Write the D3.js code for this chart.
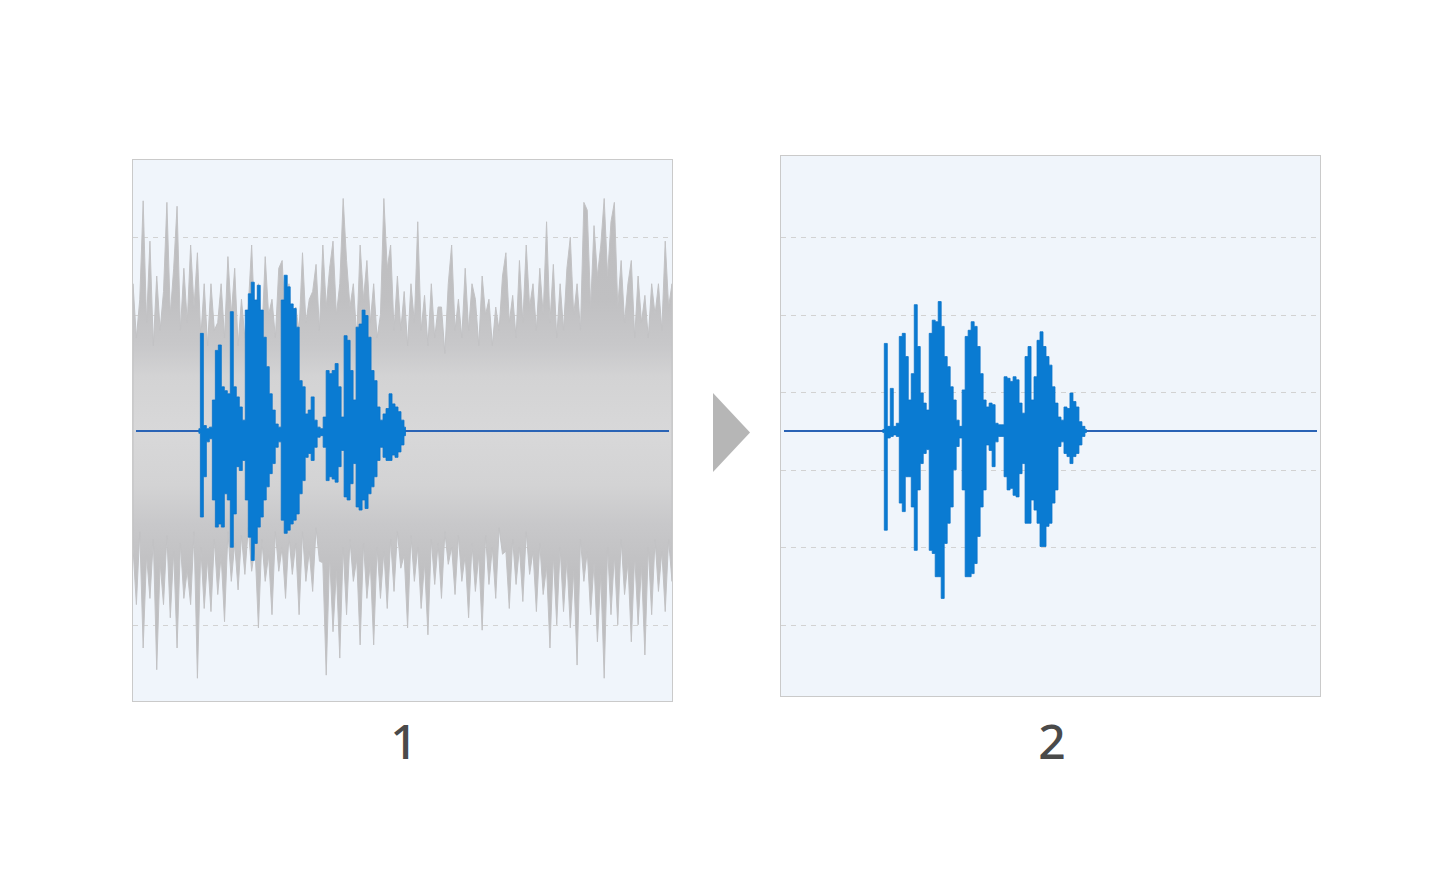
<!DOCTYPE html>
<html><head><meta charset="utf-8">
<script src="https://cdn.jsdelivr.net/npm/d3@7"></script>
<style>html,body{margin:0;padding:0;background:#fff;} svg{display:block}</style>
</head><body>
<svg id="chart" width="1440" height="875"></svg>
<script>
// ---------------- data ----------------
const panelLabels = ["1", "2"];
const gridLevels = [-2.5, -1.5, -0.5, 0.5, 1.5, 2.5];
const durationMs = 1800;          // time span shown in each panel
const lineSpanMs = [10, 1790];    // extent of the zero line
const speechStartMs = [220, 340]; // speech onset in panel 1 / panel 2
const sampleStepMs = 10;          // speech envelope sample interval

// noise envelope (panel 1), upper and lower, evenly spaced over durationMs
const noiseHigh = [1.9,1.2,1.7,2.97,1.4,2.45,1.1,2.0,1.3,1.8,
 2.95,1.5,2.1,2.9,1.3,2.1,1.4,2.4,1.6,2.3,
 1.2,1.9,1.1,1.9,1.3,1.4,1.9,1.2,2.25,1.5,
 2.1,1.1,1.7,1.2,1.6,2.4,1.3,1.9,1.2,2.25,
 1.5,1.7,1.2,2.1,2.2,1.3,1.9,1.1,1.6,1.3,
 2.3,1.4,1.7,1.8,2.15,1.3,2.4,1.6,2.1,2.45,
 1.5,1.9,3.0,2.2,1.6,1.9,1.2,2.4,1.7,2.2,
 1.4,1.9,1.2,1.5,3.0,2.1,2.4,1.3,2.0,1.3,
 1.8,1.1,1.9,1.4,2.7,1.3,1.75,1.1,1.9,1.2,
 1.6,1.6,1.0,1.9,2.4,1.3,1.7,1.2,2.1,1.3,
 1.9,1.7,1.1,2.0,1.5,1.7,1.1,1.6,1.3,2.0,
 2.3,1.4,1.75,1.2,2.2,1.4,2.4,1.6,1.9,1.3,
 2.1,1.5,2.7,1.4,2.15,1.2,1.9,1.3,2.1,2.5,
 1.5,1.9,1.3,2.95,2.85,1.6,2.65,2.0,2.4,3.0,
 2.0,2.7,2.95,1.6,2.2,1.4,1.9,2.2,1.2,2.0,
 1.4,1.75,1.2,1.9,1.5,1.9,1.3,2.45,1.6,1.9];
const noiseLow = [-1.5,-2.24,-1.3,-2.80,-1.6,-2.16,-1.4,-3.08,-1.7,-2.24,-1.35,-2.41,-1.55,-2.80,-1.45,-2.16,-1.8,-2.24,-1.3,-3.19,
 -1.5,-2.29,-1.65,-2.33,-1.4,-2.11,-1.6,-2.46,-1.3,-1.94,-1.45,-2.05,-1.35,-1.85,-1.25,-1.81,-1.5,-2.54,-1.4,-1.94,
 -1.6,-2.37,-1.3,-1.81,-1.5,-2.16,-1.35,-1.85,-1.45,-2.37,-1.3,-1.94,-1.55,-2.07,-1.25,-1.68,-1.7,-3.15,-1.6,-2.59,
 -1.8,-2.93,-1.5,-2.37,-1.4,-1.94,-1.65,-2.76,-1.45,-2.16,-1.7,-2.76,-1.5,-2.16,-1.55,-2.29,-1.4,-2.07,-1.3,-1.77,
 -1.6,-2.54,-1.35,-1.94,-1.5,-2.29,-1.7,-2.63,-1.4,-1.98,-1.45,-2.16,-1.3,-1.72,-1.5,-2.11,-1.35,-1.94,-1.6,-2.41,
 -1.45,-2.07,-1.6,-2.57,-1.35,-1.98,-1.5,-2.16,-1.25,-1.59,-1.55,-2.29,-1.4,-1.98,-1.5,-2.2,-1.3,-1.85,-1.55,-2.33,
 -1.45,-2.11,-1.75,-2.80,-1.6,-2.5,-1.5,-2.33,-1.65,-2.54,-1.8,-3.02,-1.4,-1.94,-1.55,-2.37,-1.7,-2.72,-1.85,-3.19,
 -1.5,-2.37,-1.6,-2.5,-1.4,-2.11,-1.7,-2.72,-1.6,-2.5,-1.75,-2.89,-1.5,-2.37,-1.4,-2.07,-1.55,-2.33,-1.4,-1.94];

// speech envelope, panel 1 (mixed with noise)
const speech1High = [0.03,1.26,0.07,0.03,0.05,0.40,1.04,1.11,0.57,0.52,
 0.48,1.54,0.57,0.44,0.31,0.14,1.56,1.77,1.92,1.69,
 1.88,1.56,1.21,0.83,0.48,0.27,0.09,0.05,1.69,2.01,
 1.86,1.64,1.58,1.34,0.65,0.57,0.22,0.27,0.44,0.14,
 0.05,0.03,0.18,0.78,0.74,0.78,0.87,0.57,0.18,1.23,
 1.17,0.78,0.40,1.34,1.38,1.56,1.49,1.21,0.78,0.65,
 0.31,0.14,0.22,0.29,0.48,0.35,0.31,0.25,0.14,0.05];
const speech1Low = [-0.03,-1.11,-0.59,-0.14,-0.10,-0.89,-1.24,-1.20,-1.24,-0.81,
 -0.89,-1.50,-1.07,-0.46,-0.51,-0.38,-0.89,-1.37,-1.67,-1.45,
 -1.24,-1.11,-0.89,-0.72,-0.55,-0.42,-0.21,-0.14,-1.15,-1.32,
 -1.28,-1.20,-1.15,-1.07,-0.81,-0.64,-0.34,-0.29,-0.38,-0.21,
 -0.08,-0.06,-0.21,-0.64,-0.59,-0.62,-0.66,-0.46,-0.25,-0.85,
 -0.89,-0.68,-0.42,-0.98,-1.02,-0.89,-1.00,-0.81,-0.72,-0.59,
 -0.38,-0.21,-0.34,-0.38,-0.38,-0.31,-0.34,-0.27,-0.18,-0.06];

// speech envelope, panel 2 (noise removed)
const speech2High = [0.02,1.13,0.06,0.55,0.06,0.10,1.22,1.26,0.96,0.40,0.74,
 1.63,1.09,0.49,0.36,0.27,1.26,1.43,1.41,1.67,1.35,
 0.96,0.83,0.57,0.40,0.14,0.06,0.53,1.22,1.30,1.41,
 1.35,1.09,0.74,0.40,0.31,0.36,0.34,0.10,0.08,0.08,
 0.70,0.68,0.64,0.70,0.66,0.36,0.23,0.96,1.09,0.40,
 0.70,1.17,1.28,1.09,0.96,0.85,0.57,0.36,0.18,0.14,
 0.31,0.29,0.49,0.38,0.31,0.12,0.06,0.02];
const speech2Low = [-0.02,-1.28,-0.09,-0.07,-0.05,-0.07,-0.93,-1.04,-0.59,-0.59,-0.98,
 -1.54,-0.76,-0.42,-0.29,-0.24,-1.54,-1.58,-1.88,-1.88,-2.16,
 -1.45,-1.19,-0.98,-0.50,-0.20,-0.09,-0.76,-1.88,-1.88,-1.84,
 -1.71,-1.36,-0.98,-0.76,-0.18,-0.25,-0.46,-0.14,-0.07,-0.07,
 -0.59,-0.76,-0.74,-0.83,-0.85,-0.55,-0.42,-1.19,-1.19,-0.89,
 -1.02,-1.19,-1.49,-1.49,-1.23,-1.19,-0.93,-0.76,-0.20,-0.14,
 -0.29,-0.33,-0.42,-0.33,-0.29,-0.18,-0.07,-0.02];

// ---------------- layout ----------------
const svg = d3.select("#chart");
const panels = [
  {box: {x: 132.5, y: 159.5, w: 540, h: 542}, inner: [133, 672], noise: true,
   high: speech1High, low: speech1Low, start: speechStartMs[0], label: panelLabels[0]},
  {box: {x: 780.5, y: 155.5, w: 540, h: 541}, inner: [781, 1320], noise: false,
   high: speech2High, low: speech2Low, start: speechStartMs[1], label: panelLabels[1]}
];
const y = d3.scaleLinear().domain([-3.5, 3.5]).range([702.25, 159.75]);

const defs = svg.append("defs");
const grad = defs.append("linearGradient").attr("id", "noiseGrad")
  .attr("gradientUnits", "userSpaceOnUse")
  .attr("x1", 0).attr("x2", 0).attr("y1", y(3.3)).attr("y2", y(-3.3));
const stopsA = [[3.3, "#bcbcbe"], [1.7, "#c0c0c2"], [1.1, "#c8c8ca"], [0.7, "#d3d3d4"], [0, "#d8d8d9"],
                [-0.7, "#d3d3d4"], [-1.2, "#c8c8ca"], [-1.8, "#c0c0c2"], [-3.3, "#bcbcbe"]];
stopsA.forEach(([a, c]) => grad.append("stop").attr("offset", (3.3 - a) / 6.6).attr("stop-color", c));

panels.forEach((p, pi) => {
  const x = d3.scaleLinear().domain([0, durationMs]).range(p.inner);
  const g = svg.append("g");
  defs.append("clipPath").attr("id", "clip" + pi).append("rect")
    .attr("x", p.box.x + 0.5).attr("y", p.box.y + 0.5).attr("width", p.box.w - 1).attr("height", p.box.h - 1);

  g.append("rect").attr("x", p.box.x).attr("y", p.box.y).attr("width", p.box.w).attr("height", p.box.h)
    .attr("fill", "#f0f5fb").attr("stroke", "#cacaca").attr("stroke-width", 1);

  const inner = g.append("g").attr("clip-path", `url(#clip${pi})`);

  inner.selectAll("line.grid").data(gridLevels).join("line").attr("class", "grid")
    .attr("x1", p.inner[0]).attr("x2", p.inner[1])
    .attr("y1", d => Math.round(y(d)) + 0.5).attr("y2", d => Math.round(y(d)) + 0.5)
    .attr("stroke", "#d2d2d2").attr("stroke-width", 1).attr("stroke-dasharray", "5,5");

  if (p.noise) {
    const step = durationMs / (noiseHigh.length - 1);
    const area = d3.area().x((d, i) => x(i * step)).y0((d, i) => y(noiseLow[i])).y1(d => y(d));
    inner.append("path").datum(noiseHigh).attr("d", area).attr("fill", "url(#noiseGrad)")
      .attr("stroke", "#c2c2c4").attr("stroke-width", 1).attr("stroke-linejoin", "round");
  }

  inner.append("line")
    .attr("x1", x(lineSpanMs[0])).attr("x2", x(lineSpanMs[1]))
    .attr("y1", y(0)).attr("y2", y(0))
    .attr("stroke", "#2a63b5").attr("stroke-width", 2);

  const sArea = d3.area().curve(d3.curveStep)
    .x((d, i) => x(p.start + i * sampleStepMs))
    .y0((d, i) => y(p.low[i])).y1(d => y(d));
  inner.append("path").datum(p.high).attr("d", sArea)
    .attr("fill", "#0a7bd2").attr("stroke", "#0a74ca").attr("stroke-width", 0.8);

  svg.append("text").attr("x", p.box.x + p.box.w / 2 + 1.5).attr("y", 759)
    .attr("text-anchor", "middle").attr("font-family", "'Noto Sans', 'Open Sans', sans-serif")
    .attr("font-weight", 500).attr("font-size", 48).attr("fill", "#4a4a4a").text(p.label);
});

// arrow between panels
svg.append("path")
  .attr("d", d3.line()([[713, 393], [750, 432.5], [713, 472]]) + "Z")
  .attr("fill", "#b6b6b6");
</script>
</body></html>
